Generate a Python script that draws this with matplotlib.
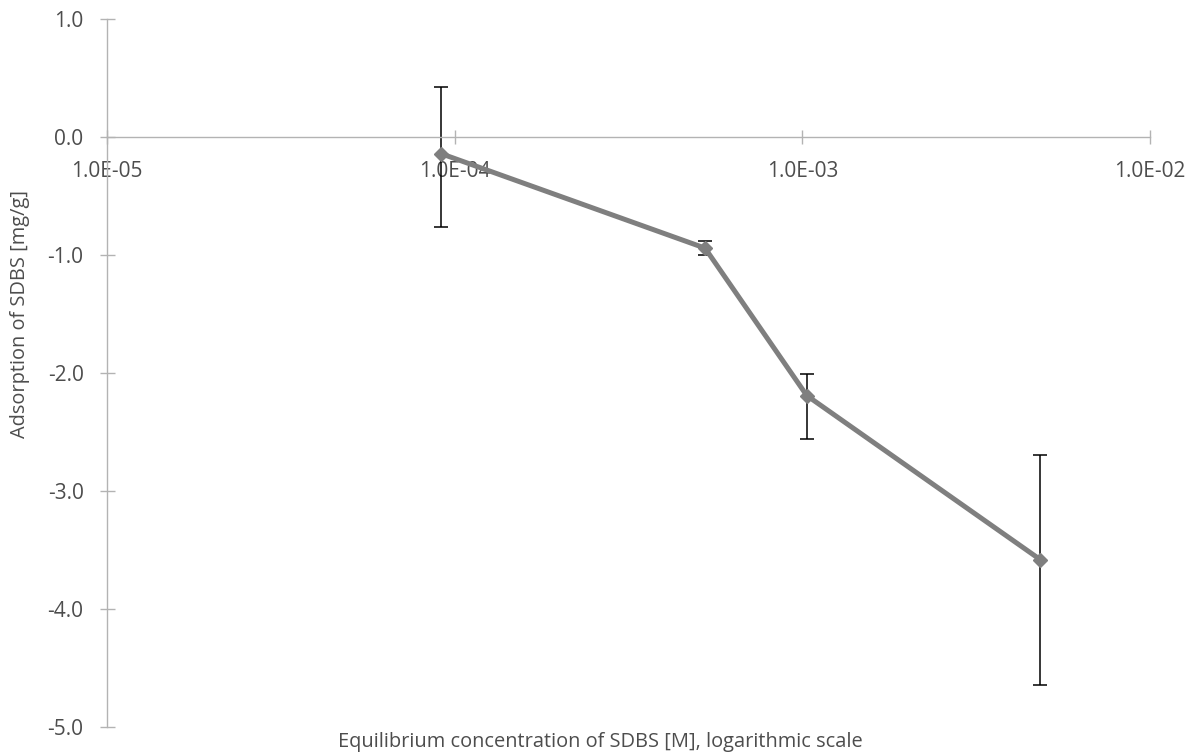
import matplotlib
matplotlib.use("Agg")
import matplotlib.pyplot as plt

# SDBS adsorption vs equilibrium concentration
conc = [9.16e-5, 5.25e-4, 1.03e-3, 4.83e-3]
adsorption = [-0.14, -0.94, -2.19, -3.58]
err_low = [0.62, 0.06, 0.37, 1.06]
err_high = [0.57, 0.06, 0.18, 0.89]

x_ticks = [1e-5, 1e-4, 1e-3, 1e-2]
x_tick_labels = ["1.0E-05", "1.0E-04", "1.0E-03", "1.0E-02"]
y_ticks = [1, 0, -1, -2, -3, -4, -5]
y_tick_labels = ["1.0", "0.0", "-1.0", "-2.0", "-3.0", "-4.0", "-5.0"]

plt.rcParams["font.family"] = ["Open Sans", "DejaVu Sans"]
text_color = "#4d4d4d"
axis_color = "#b3b3b3"

fig = plt.figure(figsize=(11.93, 7.54), dpi=100)
ax = fig.add_axes([107 / 1193, 27 / 754, (1150 - 107) / 1193, (734.7 - 27) / 754])

ax.errorbar(conc, adsorption, yerr=[err_low, err_high], fmt="none",
            ecolor="black", elinewidth=1.1, capsize=4.7, capthick=1.1, zorder=2)
ax.plot(conc, adsorption, color="#7f7f7f", linewidth=3.6, marker="D",
        markersize=7.5, zorder=3)

ax.set_xscale("log")
ax.set_xlim(1e-5, 1e-2)
ax.set_ylim(-5, 1)
ax.set_xticks(x_ticks)
ax.set_xticklabels(x_tick_labels)
ax.minorticks_off()
ax.set_yticks(y_ticks)
ax.set_yticklabels(y_tick_labels)

# x axis crosses at y = 0, y axis at the left edge
ax.spines["bottom"].set_position(("data", 0))
ax.spines["top"].set_visible(False)
ax.spines["right"].set_visible(False)
for side in ["bottom", "left"]:
    ax.spines[side].set_color(axis_color)
    ax.spines[side].set_linewidth(1.0)

ax.tick_params(axis="x", direction="inout", length=10, width=1.0,
               color=axis_color, labelcolor=text_color, labelsize=15, pad=12)
ax.tick_params(axis="y", direction="inout", length=10.8, width=1.0,
               color=axis_color, labelcolor=text_color, labelsize=15, pad=11.5)

fig.text(600 / 1193, 1 - 742 / 754, "Equilibrium concentration of SDBS [M], logarithmic scale",
         ha="center", va="center", fontsize=14.4, color=text_color)
fig.text(20 / 1193, 1 - 314 / 754, "Adsorption of SDBS [mg/g]", rotation=90,
         ha="center", va="center", fontsize=14.4, color=text_color)

fig.savefig("out.png", dpi=100)
